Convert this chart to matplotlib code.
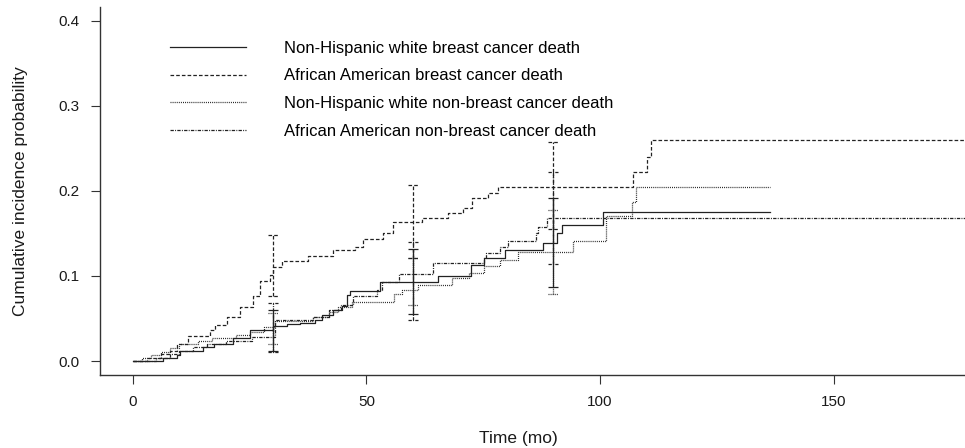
import numpy as np
import matplotlib
matplotlib.use('Agg')
import matplotlib.pyplot as plt

plt.rcParams['font.family'] = ['Liberation Sans', 'DejaVu Sans']
plt.rcParams['lines.scale_dashes'] = False

labels = ["Non-Hispanic white breast cancer death",
          "African American breast cancer death",
          "Non-Hispanic white non-breast cancer death",
          "African American non-breast cancer death"]

# step curves (time in months, cumulative incidence)
nhw_bc_t = [0, 6.5, 9.4, 10.1, 15.1, 17.3, 21.5, 25.1, 30.1, 33.0, 35.8, 39.0, 40.5, 42.9,
            44.7, 45.8, 46.5, 52.9, 65.4, 72.3, 75.2, 79.6, 87.9, 90.7, 91.8, 100.6, 136.4]
nhw_bc_p = [0, 0.004, 0.007, 0.012, 0.016, 0.020, 0.027, 0.036, 0.041, 0.043, 0.045, 0.048,
            0.054, 0.060, 0.065, 0.077, 0.082, 0.093, 0.100, 0.113, 0.121, 0.130, 0.139,
            0.150, 0.160, 0.175, 0.175]

aa_bc_t = [0, 3.0, 6.0, 8.0, 9.4, 11.9, 16.5, 17.6, 20.1, 23.0, 25.8, 27.2, 29.4, 30.1, 31.9,
           37.6, 42.9, 47.6, 49.3, 53.6, 55.7, 61.8, 67.5, 70.7, 72.5, 76.1, 78.2, 107.1,
           110.0, 111.0, 179.0]
aa_bc_p = [0, 0.004, 0.008, 0.012, 0.020, 0.029, 0.036, 0.042, 0.052, 0.064, 0.076, 0.094,
           0.101, 0.111, 0.118, 0.123, 0.130, 0.134, 0.143, 0.150, 0.163, 0.168, 0.174,
           0.180, 0.191, 0.198, 0.205, 0.222, 0.240, 0.260, 0.260]

nhw_oc_t = [0, 2.0, 4.0, 6.0, 8.0, 10.0, 14.0, 17.0, 22.0, 25.0, 28.0, 30.5, 38.6, 42.0,
            44.0, 46.9, 55.9, 57.6, 61.1, 68.3, 72.0, 75.2, 78.5, 82.5, 94.3, 101.3, 106.8,
            107.7, 136.4]
nhw_oc_p = [0, 0.003, 0.007, 0.011, 0.015, 0.020, 0.023, 0.027, 0.030, 0.034, 0.040, 0.047,
            0.052, 0.058, 0.064, 0.069, 0.079, 0.083, 0.089, 0.097, 0.104, 0.112, 0.119,
            0.128, 0.141, 0.170, 0.187, 0.205, 0.205]

aa_oc_t = [0, 5.0, 8.0, 10.0, 13.0, 16.0, 20.0, 25.5, 30.5, 38.6, 42.0, 44.5, 47.2, 52.2,
           53.3, 56.9, 64.2, 75.1, 75.5, 78.6, 80.4, 86.4, 86.8, 88.6, 179.0]
aa_oc_p = [0, 0.004, 0.008, 0.012, 0.016, 0.020, 0.024, 0.028, 0.048, 0.052, 0.060, 0.066,
           0.076, 0.083, 0.093, 0.102, 0.115, 0.121, 0.127, 0.134, 0.141, 0.150, 0.158,
           0.168, 0.168]

# confidence intervals at 30, 60, 90 months
ci_t = [30, 60, 90]
nhw_bc_lo = [0.012, 0.055, 0.087]
nhw_bc_hi = [0.060, 0.132, 0.191]
aa_bc_lo = [0.076, 0.121, 0.155]
aa_bc_hi = [0.148, 0.207, 0.257]
nhw_oc_lo = [0.020, 0.066, 0.079]
nhw_oc_hi = [0.056, 0.121, 0.177]
aa_oc_lo = [0.010, 0.048, 0.114]
aa_oc_hi = [0.068, 0.140, 0.222]

series = [(nhw_bc_t, nhw_bc_p, nhw_bc_lo, nhw_bc_hi, '-'),
          (aa_bc_t, aa_bc_p, aa_bc_lo, aa_bc_hi, (0, (2.6, 1.5))),
          (nhw_oc_t, nhw_oc_p, nhw_oc_lo, nhw_oc_hi, (0, (0.7, 0.8))),
          (aa_oc_t, aa_oc_p, aa_oc_lo, aa_oc_hi, (0, (2.4, 0.9, 0.7, 0.9)))]

col = '#222222'
fig = plt.figure(figsize=(9.65, 4.48), dpi=100)
ax = fig.add_axes([100/965, 73/448, 865/965, 368/448])

handles = []
cap = 1.1
for (t, p, lo, hi, ls), lab in zip(series, labels):
    h, = ax.step(t, p, where='post', color=col, lw=0.9, linestyle=ls, label=lab)
    handles.append(h)
    ax.vlines(ci_t, lo, hi, colors=col, lw=0.9, linestyles=[ls])
    ct = np.array(ci_t)
    ax.hlines(lo, ct - cap, ct + cap, colors=col, lw=0.9, linestyles=[ls])
    ax.hlines(hi, ct - cap, ct + cap, colors=col, lw=0.9, linestyles=[ls])

ax.set_xlim(-7.0, 178.1)
ax.set_ylim(-0.01645, 0.416)
ax.set_xticks([0, 50, 100, 150])
ax.set_yticks([0.0, 0.1, 0.2, 0.3, 0.4])
ax.set_yticklabels(['0.0', '0.1', '0.2', '0.3', '0.4'])
for s in ['top', 'right']:
    ax.spines[s].set_visible(False)
for s in ['left', 'bottom']:
    ax.spines[s].set_color('#333333')
    ax.spines[s].set_linewidth(1.0)
ax.tick_params(direction='out', length=6.5, width=0.8, colors='#333333',
               labelcolor='#1a1a1a', labelsize=11, pad=8)

ax.set_xlabel('Time (mo)', fontsize=12.5, color='#1a1a1a')
ax.xaxis.label.set_va('center')
ax.xaxis.set_label_coords((518 - 100) / 865, (375 - 438) / 368)
ax.set_ylabel('Cumulative incidence probability', fontsize=12.5, color='#1a1a1a')
ax.yaxis.label.set_va('center')
ax.yaxis.set_label_coords((21 - 100) / 865, 0.5)

ax.legend(handles=handles, loc='upper left', bbox_to_anchor=(170 / 965, 1 - 41 / 448),
          bbox_transform=fig.transFigure, frameon=False, fontsize=12,
          handlelength=4.54, handletextpad=2.32, labelspacing=0.75, borderpad=0,
          borderaxespad=0)

fig.savefig('out.png', dpi=100)
